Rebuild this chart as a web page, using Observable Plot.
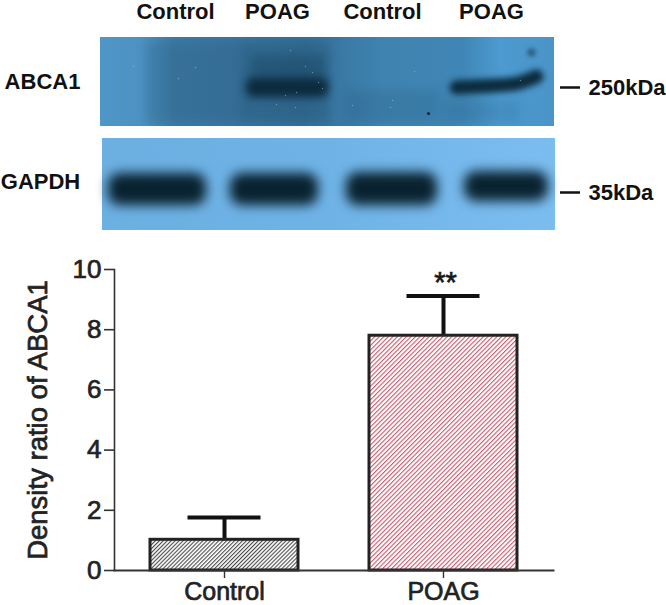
<!DOCTYPE html>
<html>
<head>
<meta charset="utf-8">
<script src="https://cdn.jsdelivr.net/npm/d3@7"></script>
<script src="https://cdn.jsdelivr.net/npm/@observablehq/plot@0.6"></script>
<style>
html,body{margin:0;padding:0;background:#fff;}
#chart svg{display:block;}
#bars text{stroke:#222;stroke-width:.7px;}
</style>
</head>
<body>
<div id="chart"></div>
<script>
// Bar chart data
const groups = ["Control", "POAG"];
const means = [1.02, 7.8];
const upper = [1.76, 9.12];
const yTicks = [0, 2, 4, 6, 8, 10];
const hatch = ["url(#hatchGrey)", "url(#hatchRed)"];
const yTitle = "Density ratio of ABCA1";

// Blot picture: positions on the photographed figure
const laneNames = ["Control", "POAG", "Control", "POAG"];
const laneCentres = [175, 277, 382, 491];
const panelX1 = [100, 102];
const panelX2 = [554, 555];
const panelY1 = [37, 138];
const panelY2 = [126, 230];
const panelFill = ["url(#panelTop)", "url(#panelLow)"];
const proteins = ["ABCA1", "GAPDH"];
const proteinX = [42, 40];
const proteinY = [81, 181];
const sizes = ["250kDa", "35kDa"];
const sizeY = [87, 192];
const gapdhX1 = [108, 230, 346, 464];
const gapdhX2 = [206, 318, 437, 548];
const gapdhY1 = [173, 173, 172, 171];
const gapdhY2 = [205, 205, 205, 201];
const band2X = [456, 475, 500, 520, 536];
const band2Y = [87, 86, 85, 83, 76];
const shadeX1 = [146, 242, 250, 345, 444];
const shadeX2 = [245, 330, 326, 440, 520];
const shadeY1 = [42, 42, 56, 90, 100];
const shadeY2 = [122, 122, 92, 122, 122];
const shadeOpacity = [0.14, 0.22, 0.34, 0.12, 0.12];
const speckX = [133, 178, 195, 290, 305, 312, 318, 296, 285, 322, 276, 295, 352, 390, 414, 392, 520];
const speckY = [66, 78, 67, 50, 66, 72, 82, 92, 95, 88, 104, 107, 105, 107, 71, 100, 80];

const blotDefs = () => {
  const d = d3.create("svg:defs");
  const top = d.append("linearGradient").attr("id", "panelTop");
  [[0, "#4f97c8"], [0.09, "#4c92c2"], [0.16, "#3d7ba6"], [0.45, "#356f99"], [0.62, "#3f83b0"], [0.8, "#3f86b6"], [0.88, "#4c9ad0"], [1, "#4a94c8"]]
    .forEach(([o, c]) => top.append("stop").attr("offset", o).attr("stop-color", c));
  const low = d.append("linearGradient").attr("id", "panelLow");
  [[0, "#6cb0e2"], [0.5, "#6fb3e6"], [1, "#7cbdf0"]]
    .forEach(([o, c]) => low.append("stop").attr("offset", o).attr("stop-color", c));
  return d.node();
};

const barDefs = () => {
  const d = d3.create("svg:defs");
  const make = (id, color, size, w) => {
    const p = d.append("pattern").attr("id", id).attr("patternUnits", "userSpaceOnUse")
      .attr("width", size).attr("height", size).attr("patternTransform", "rotate(45)");
    p.append("rect").attr("width", size).attr("height", size).attr("fill", "#fff");
    p.append("line").attr("x1", 0).attr("y1", 0).attr("x2", 0).attr("y2", size)
      .attr("stroke", color).attr("stroke-width", w);
  };
  make("hatchGrey", "#4a4a4a", 2.8, 2.2);
  make("hatchRed", "#c9596a", 3.2, 2.2);
  return d.node();
};

const blot = Plot.plot({
  width: 666, height: 240,
  margin: 0,
  style: {fontFamily: "'Liberation Sans', Arial, sans-serif", background: "transparent"},
  x: {domain: [0, 666], range: [0, 666], axis: null},
  y: {domain: [0, 240], range: [0, 240], axis: null},
  marks: [
    blotDefs,
    Plot.rect(panelFill, {x1: (_, i) => panelX1[i], x2: (_, i) => panelX2[i], y1: (_, i) => panelY1[i], y2: (_, i) => panelY2[i], fill: d => d}),
    Plot.rect(shadeOpacity, {x1: (_, i) => shadeX1[i], x2: (_, i) => shadeX2[i], y1: (_, i) => shadeY1[i], y2: (_, i) => shadeY2[i], fill: "#123a52", fillOpacity: d => d, imageFilter: "blur(5px)"}),
    Plot.rect(["a"], {x1: [246], x2: [328], y1: [78], y2: [97], fill: "#0c2b3d", rx: 7, imageFilter: "blur(4px)"}),
    Plot.line(band2X.map((x, i) => [x, band2Y[i]]), {x: "0", y: "1", stroke: "#0c2b3d", strokeWidth: 14, curve: "basis", strokeLinecap: "round", imageFilter: "blur(3px)"}),
    Plot.dot([[531, 52]], {x: "0", y: "1", r: 4, fill: "#1c4358", fillOpacity: 0.7, imageFilter: "blur(2px)"}),
    Plot.dot([[428, 113]], {x: "0", y: "1", r: 1.6, fill: "#12293a"}),
    Plot.dot(speckX, {x: d => d, y: (_, i) => speckY[i], r: 0.7, fill: "#a9c6b8", fillOpacity: 0.55}),
    Plot.rect(gapdhX1, {x1: d => d, x2: (_, i) => gapdhX2[i], y1: (_, i) => gapdhY1[i], y2: (_, i) => gapdhY2[i], fill: "#09222f", rx: 12, imageFilter: "blur(6px)"}),
    Plot.text(laneNames, {x: (_, i) => laneCentres[i], y: () => 11, text: d => d, fontSize: 22, fontWeight: "bold", fill: "#111"}),
    Plot.text(proteins, {x: (_, i) => proteinX[i], y: (_, i) => proteinY[i], text: d => d, fontSize: 22, fontWeight: "bold", fill: "#111"}),
    Plot.ruleY(sizeY, {x1: 560, x2: 580, stroke: "#111", strokeWidth: 2.5}),
    Plot.text(sizes, {x: 588, y: (_, i) => sizeY[i], text: d => d, textAnchor: "start", fontSize: 22, fontWeight: "bold", fill: "#111"})
  ]
});

const bars = Plot.plot({
  width: 666, height: 365,
  marginTop: 29, marginBottom: 35, marginLeft: 114, marginRight: 113,
  style: {fontFamily: "'Liberation Sans', Arial, sans-serif", color: "#222", background: "transparent", overflow: "visible"},
  x: {domain: groups, paddingInner: 0.326, paddingOuter: 0.163, label: null},
  y: {domain: [0, 10], label: null},
  marks: [
    barDefs,
    Plot.ruleX(groups, {x: d => d, y1: (_, i) => means[i], y2: (_, i) => upper[i], stroke: "#111", strokeWidth: 4}),
    Plot.tickY(groups, {x: d => d, y: (_, i) => upper[i], stroke: "#111", strokeWidth: 4, insetLeft: 37.5, insetRight: 37.5}),
    Plot.barY(groups, {x: d => d, y: (_, i) => means[i], fill: (_, i) => hatch[i], stroke: "#222", strokeWidth: 3}),
    Plot.frame({anchor: "left", stroke: "#333", strokeWidth: 1.6}),
    Plot.frame({anchor: "bottom", stroke: "#333", strokeWidth: 2}),
    Plot.axisY({ticks: yTicks, tickSize: 10, tickPadding: 3, fontSize: 26, tickFormat: d => d, stroke: "#333", strokeWidth: 1.6, label: null}),
    Plot.axisX({tickSize: 8, tickPadding: 4, fontSize: 25, stroke: "#333", strokeWidth: 1.4, label: null}),
    Plot.text([yTitle], {frameAnchor: "left", textAnchor: "middle", rotate: -90, dx: -76, fontSize: 27.5, fill: "#222"}),
    Plot.text(["**"], {x: ["POAG"], y: [9.55], dx: 2, fontSize: 29, fill: "#111", lineAnchor: "middle"})
  ]
});
bars.id = "bars";
const root = document.getElementById("chart");
root.append(blot, bars);
</script>
</body>
</html>
